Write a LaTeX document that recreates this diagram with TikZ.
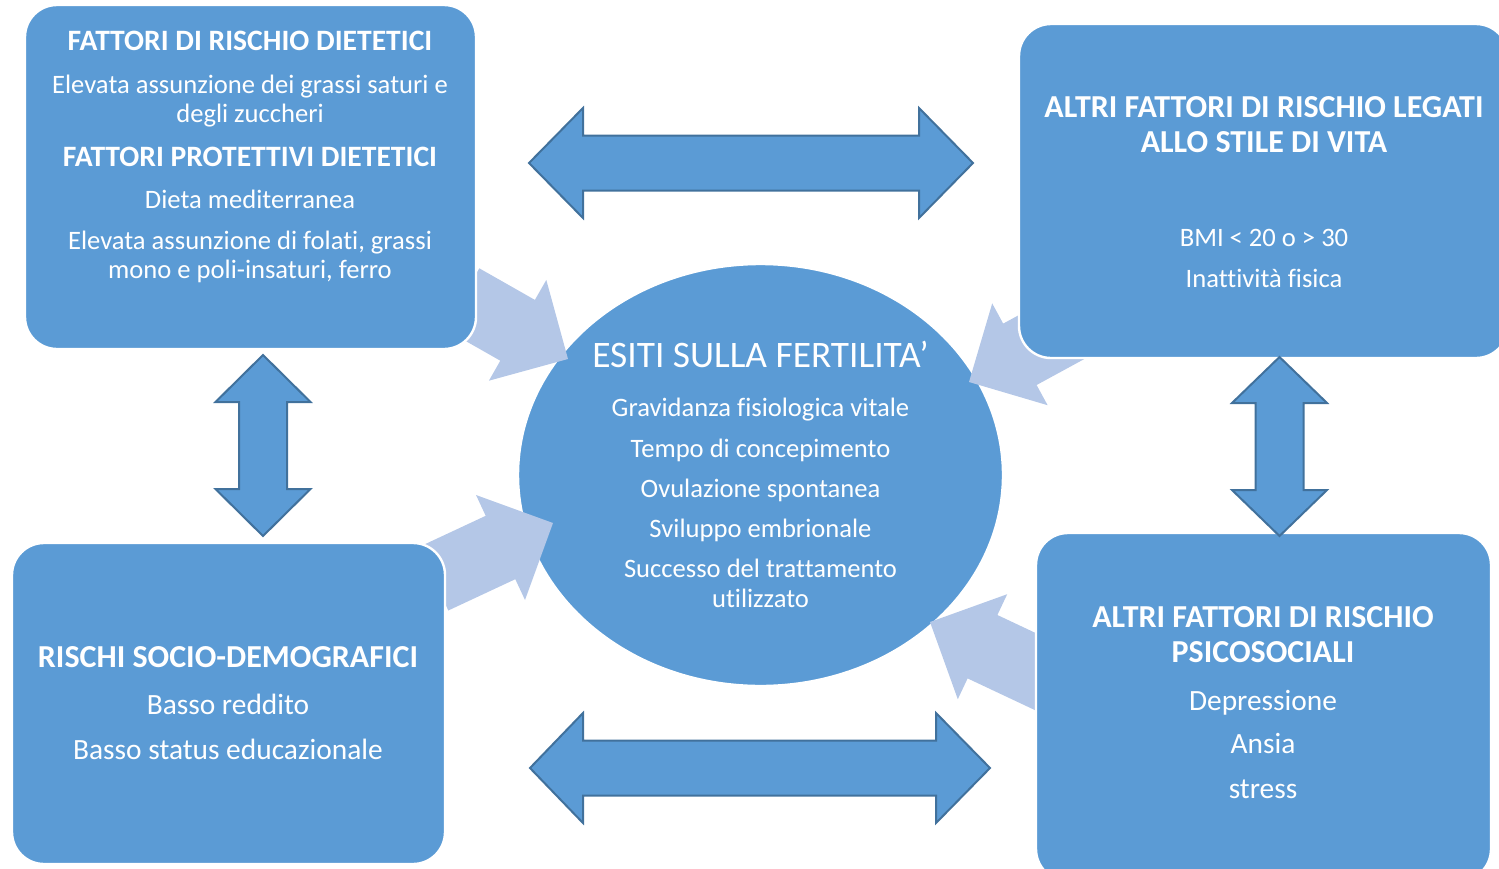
\documentclass[tikz,border=0pt]{standalone}
\usepackage{fontspec}
\setmainfont{Carlito}[Ligatures=NoCommon]
\definecolor{boxblue}{HTML}{5B9BD5}
\definecolor{edgeblue}{HTML}{41719C}
\definecolor{softblue}{HTML}{B4C7E7}
\tikzset{
  box/.style={fill=boxblue, draw=white, line width=1.2pt, rounded corners=16pt},
  bigarrow/.style={fill=boxblue, draw=edgeblue, line width=1pt, line join=miter},
  softarrow/.style={fill=softblue, draw=none},
  txt/.style={text=white, anchor=base, inner sep=0pt, yshift=-0.5pt},
  hA/.style={txt, font=\bfseries\fontsize{14.8}{17}\selectfont},
  bA/.style={txt, font=\fontsize{13.3}{16}\selectfont},
  hB/.style={txt, font=\bfseries\fontsize{16}{19}\selectfont},
  bB/.style={txt, font=\fontsize{14.7}{17}\selectfont},
  hC/.style={txt, font=\fontsize{18.7}{22}\selectfont},
}
\begin{document}
\begin{tikzpicture}[x=0.5pt,y=-0.5pt]
\useasboundingbox (0,0) rectangle (1499,868);
\clip (0,0) rectangle (1499,868);

% central ellipse
\path[fill=boxblue, draw=white, line width=1.2pt] (760.5,475) ellipse [x radius=242.5, y radius=211];
\coordinate (centre) at (760.5,475);

% soft arrows towards the centre
\path[softarrow] (568,359) coordinate (t1) -- (546.3,279.9) -- (534.9,299.9) -- (479.3,268.3) -- (444.7,329.1) -- (500.3,360.7) -- (488.9,380.7) -- cycle;
\path[softarrow] (969,382) coordinate (t2) -- (992.2,303.4) -- (1003.2,323.6) -- (1059.4,293.0) -- (1092.8,354.4) -- (1036.6,385.0) -- (1047.6,405.2) -- cycle;
\path[softarrow] (553,523) coordinate (t3) -- (476.0,495.0) -- (485.7,515.8) -- (418.7,547.1) -- (448.3,610.5) -- (515.3,579.2) -- (525.0,600.0) -- cycle;
\path[softarrow] (930,622) coordinate (t4) -- (1007.2,594.2) -- (997.4,615.0) -- (1069.8,649.1) -- (1040.0,712.5) -- (967.6,678.4) -- (957.8,699.2) -- cycle;

% boxes
\path[box] (25,5) rectangle (476,349);
\path[box] (1019,24) rectangle (1508,358);
\path[box] (12,543) rectangle (445,864);
\path[box] (1036,533) rectangle (1491,881);

% double arrows
\path[bigarrow] (529,163) -- (583,108) -- (583,135.5) -- (919,135.5) -- (919,108) -- (973,163) -- (919,218) -- (919,190.5) -- (583,190.5) -- (583,218) -- cycle;
\path[bigarrow] (530,768) -- (583,713) -- (583,740.5) -- (936,740.5) -- (936,713) -- (990,768) -- (936,823) -- (936,795.5) -- (583,795.5) -- (583,823) -- cycle;
\path[bigarrow] (263,355) -- (310.5,402) -- (287,402) -- (287,489) -- (310.5,489) -- (263,536) -- (215.5,489) -- (239,489) -- (239,402) -- (215.5,402) -- cycle;
\path[bigarrow] (1279.5,357) -- (1327,403) -- (1303.5,403) -- (1303.5,490) -- (1327,490) -- (1279.5,536) -- (1232,490) -- (1255.5,490) -- (1255.5,403) -- (1232,403) -- cycle;

% top-left texts
\node[hA] (tl1) at (250,49.3) {FATTORI DI RISCHIO DIETETICI};
\node[bA] (tl2) at (250,92.7) {Elevata assunzione dei grassi saturi e};
\node[bA] (tl3) at (250,121) {degli zuccheri};
\node[hA] (tl4) at (250,165.3) {FATTORI PROTETTIVI DIETETICI};
\node[bA] (tl5) at (250,207.7) {Dieta mediterranea};
\node[bA] (tl6) at (250,248.3) {Elevata assunzione di folati, grassi};
\node[bA] (tl7) at (250,277.3) {mono e poli-insaturi, ferro};

% top-right texts
\node[hB] (tr1) at (1264,116.7) {ALTRI FATTORI DI RISCHIO LEGATI};
\node[hB] (tr2) at (1264,151.7) {ALLO STILE DI VITA};
\node[bA] (tr3) at (1264,245) {BMI < 20 o > 30};
\node[bA] (tr4) at (1264,286) {Inattività fisica};

% centre texts
\node[hC] (c1) at (760.5,366) {ESITI SULLA FERTILITA’};
\node[bA] (c2) at (760.5,415) {Gravidanza fisiologica vitale};
\node[bA] (c3) at (760.5,456) {Tempo di concepimento};
\node[bA] (c4) at (760.5,496.7) {Ovulazione spontanea};
\node[bA] (c5) at (760.5,536) {Sviluppo embrionale};
\node[bA] (c6) at (760.5,576.7) {Successo del trattamento};
\node[bA] (c7) at (760.5,606.7) {utilizzato};

% bottom-left texts
\node[hB] (bl1) at (228,666) {RISCHI SOCIO-DEMOGRAFICI};
\node[bB] (bl2) at (228,713.3) {Basso reddito};
\node[bB] (bl3) at (228,758.3) {Basso status educazionale};

% bottom-right texts
\node[hB] (br1) at (1263,626.7) {ALTRI FATTORI DI RISCHIO};
\node[hB] (br2) at (1263,661.7) {PSICOSOCIALI};
\node[bB] (br3) at (1263,709.3) {Depressione};
\node[bB] (br4) at (1263,752.7) {Ansia};
\node[bB] (br5) at (1263,797.3) {stress};
\end{tikzpicture}
\end{document}
